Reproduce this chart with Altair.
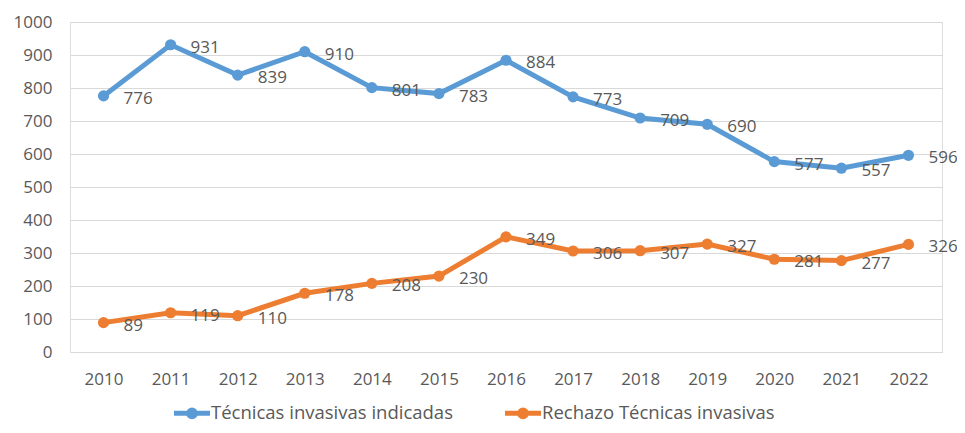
import altair as alt
import pandas as pd

years = ["2010", "2011", "2012", "2013", "2014", "2015", "2016", "2017", "2018", "2019", "2020", "2021", "2022"]
indicadas = [776, 931, 839, 910, 801, 783, 884, 773, 709, 690, 577, 557, 596]
rechazo = [89, 119, 110, 178, 208, 230, 349, 306, 307, 327, 281, 277, 326]
series_names = ["Técnicas invasivas indicadas", "Rechazo Técnicas invasivas"]
colors = ["#5B9BD5", "#ED7D31"]

rows = []
for y, v in zip(years, indicadas):
    rows.append({"year": y, "value": v, "serie": series_names[0]})
for y, v in zip(years, rechazo):
    rows.append({"year": y, "value": v, "serie": series_names[1]})
df = pd.DataFrame(rows)

FONT = "Open Sans"
TXT = "#595959"

legend_symbol = "M-1.6,0H1.6M0.3,0A0.3,0.3 0 1,1 -0.3,0A0.3,0.3 0 1,1 0.3,0Z"

base = alt.Chart(df).encode(
    x=alt.X("year:N", sort=years, title=None,
            scale=alt.Scale(paddingInner=1, paddingOuter=0.5),
            axis=alt.Axis(labelAngle=0, ticks=False, domain=False, grid=False,
                          labelPadding=19, labelFontSize=17, labelColor=TXT, labelFont=FONT)),
    y=alt.Y("value:Q", title=None,
            scale=alt.Scale(domain=[0, 1000]),
            axis=alt.Axis(values=list(range(0, 1001, 100)), format="d", ticks=False, domain=False,
                          labelPadding=18, labelFontSize=17, labelColor=TXT, labelFont=FONT,
                          gridColor="#D9D9D9", gridWidth=1)),
    color=alt.Color("serie:N", sort=series_names,
                    scale=alt.Scale(domain=series_names, range=colors),
                    legend=alt.Legend(title=None, orient="none", direction="horizontal",
                                      legendX=108, legendY=377,
                                      symbolType=legend_symbol, symbolSize=506,
                                      symbolStrokeWidth=5, labelFontSize=18.5, labelColor=TXT,
                                      labelFont=FONT, columnPadding=42, labelOffset=5,
                                      labelLimit=400)),
)

lines = base.mark_line(strokeWidth=5)
points = base.mark_circle(size=125, opacity=1)
labels = base.mark_text(align="left", baseline="middle", dx=20, dy=3,
                        fontSize=17, font=FONT).encode(text="value:Q", color=alt.value(TXT))

chart = alt.layer(lines, points, labels).properties(
    width=872, height=330,
    autosize=alt.AutoSizeParams(type="none"),
    padding={"left": 62, "top": 14, "right": 15, "bottom": 73},
).configure_view(stroke=None).configure(background="white")

chart.save("out.html", embed_options={"renderer": "svg", "actions": False})
